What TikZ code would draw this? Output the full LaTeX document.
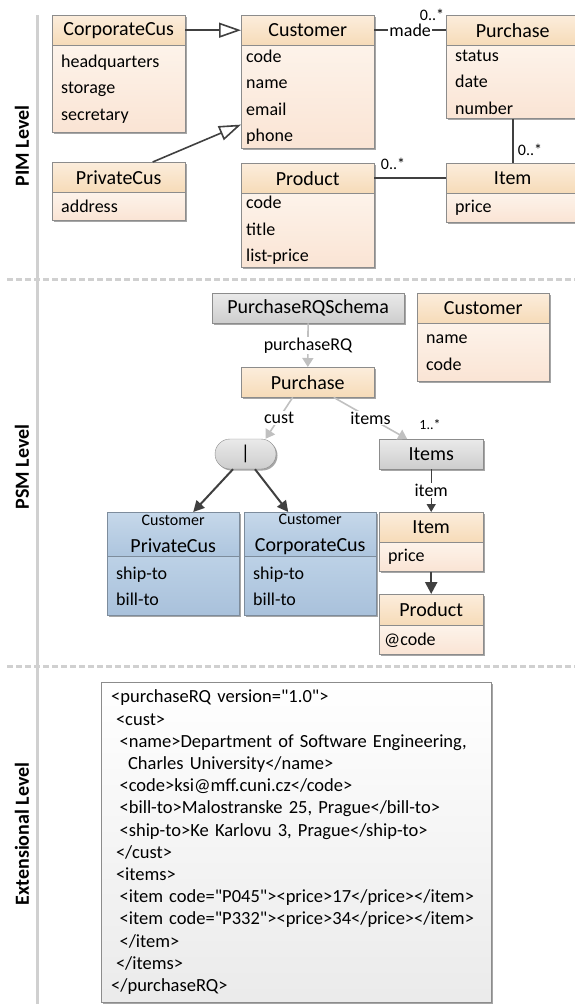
\documentclass[tikz,border=0pt]{standalone}
\usepackage{fontspec}
\setmainfont{Carlito}
\usetikzlibrary{positioning,shapes.misc,shadows,arrows.meta}

\definecolor{edge}{HTML}{8C8C8C}
\definecolor{link}{HTML}{404040}
\definecolor{soft}{HTML}{C0C0C0}
\definecolor{rule}{HTML}{D0D0D0}
\definecolor{ohT}{HTML}{FCEDDC}
\definecolor{ohB}{HTML}{F6DBB8}
\definecolor{obT}{HTML}{FDF3EA}
\definecolor{obB}{HTML}{FAE4D4}
\definecolor{ghT}{HTML}{EAEAEA}
\definecolor{ghB}{HTML}{CDCDCD}
\definecolor{bhT}{HTML}{C6D8EA}
\definecolor{bhB}{HTML}{ADC5DE}
\definecolor{bbT}{HTML}{BCD1E6}
\definecolor{bbB}{HTML}{A9C1DB}
\definecolor{bedge}{HTML}{7D8C9C}

\newcommand{\hfont}{\fontsize{20}{24}\selectfont}
\newcommand{\afont}{\fontsize{18}{26.5}\selectfont}
\newcommand{\lfont}{\fontsize{18}{20}\selectfont}
\newcommand{\mfont}{\fontsize{16}{18}\selectfont}
\newcommand{\q}{\textquotedbl}

\tikzset{
  boxshadow/.style={drop shadow={shadow xshift=1.5pt,shadow yshift=-1.5pt,opacity=.35,fill=black}},
  head/.style={draw=edge, boxshadow, top color=ohT, bottom color=ohB, minimum height=30pt, font=\hfont, inner sep=0pt, anchor=north west},
  attrs/.style={draw=edge, boxshadow, top color=obT, bottom color=obB, font=\afont, align=left, inner ysep=0pt, inner xsep=9pt},
  grey/.style={draw=edge, boxshadow, top color=ghT, bottom color=ghB, minimum height=30pt, font=\hfont, inner sep=0pt, anchor=north west},
  bhead/.style={draw=bedge, boxshadow, top color=bhT, bottom color=bhB, minimum height=44pt, font=\fontsize{20}{27}\selectfont, align=center, inner sep=0pt, anchor=north west},
  battrs/.style={draw=bedge, boxshadow, top color=bbT, bottom color=bbB, font=\afont, align=left, inner ysep=0pt, inner xsep=9pt},
  gen/.style={link, line width=1.6pt, -{Triangle[open,fill=white,length=22pt,width=15pt]}},
  assoc/.style={link, line width=1.8pt},
  lbl/.style={fill=white, text=black, inner sep=1pt, font=\lfont},
  mult/.style={font=\mfont, inner sep=0pt},
  softarr/.style={soft, line width=1.6pt, -{Triangle[length=9pt,width=11pt]}},
  thinarr/.style={link, line width=1.4pt, -{Triangle[length=8pt,width=9pt]}},
  choicearr/.style={link, line width=2pt, -{Triangle[length=11pt,width=11pt]}},
  levellbl/.style={rotate=90, font=\fontsize{20}{24}\selectfont\bfseries}
}

\begin{document}
\begin{tikzpicture}[x=1pt, y=-1pt]
    \useasboundingbox (0,0) rectangle (575,1004);
    \draw[rule, line width=3pt] (37,15) -- (37,1004);
    \draw[rule, line width=3pt, dash pattern=on 6pt off 3pt] (7,279) -- (575,279);
    \draw[rule, line width=3pt, dash pattern=on 6pt off 3pt] (7,666) -- (575,666);
    \node[levellbl] (pimL) at (22,146) {PIM Level};
    \node[levellbl] (psmL) at (22,467) {PSM Level};
    \node[levellbl] (extL) at (22,834) {Extensional Level};

    % PIM
    \node[head, minimum width=133pt] (CorpCus) at (52,15) {CorporateCus};
    \node[attrs, text width=115pt, minimum height=87pt, below=0pt of CorpCus] (CorpCusA) {headquarters\\storage\\secretary};
    \node[head, minimum width=133pt] (PrivCus) at (52,162) {PrivateCus};
    \node[attrs, text width=115pt, minimum height=28pt, below=0pt of PrivCus] (PrivCusA) {address};
    \node[head, minimum width=133pt] (Cust) at (241,15) {Customer};
    \node[attrs, inner xsep=5pt, text width=123pt, minimum height=103pt, below=0pt of Cust] (CustA) {code\\name\\email\\phone};
    \node[head, minimum width=133pt] (Prod) at (241,163) {Product};
    \node[attrs, inner xsep=5pt, text width=123pt, minimum height=74pt, below=0pt of Prod] (ProdA) {code\\title\\list-price};
    \node[head, minimum width=133pt] (Purch) at (446,15) {Purchase};
    \node[attrs, text width=115pt, minimum height=73pt, below=0pt of Purch] (PurchA) {status\\date\\number};
    \node[head, minimum width=133pt] (Item) at (446,163) {Item};
    \node[attrs, text width=115pt, minimum height=29pt, below=0pt of Item] (ItemA) {price};

    \draw[gen] (CorpCus) -- (Cust);
    \draw[gen] ([xshift=34pt]PrivCus.north) -- ([yshift=-27.5pt]CustA.west);
    \draw[assoc] (Cust) -- node[lbl] {made} (Purch);
    \draw[assoc] (PurchA) -- (Item);
    \draw[assoc] (Prod) -- (Item);
    \node[mult] (m1) at (432,15) {0..*};
    \node[mult] (m2) at (530,150) {0..*};
    \node[mult] (m3) at (393,164) {0..*};

    % PSM
    \node[grey, minimum width=192pt] (Schema) at (212,293) {PurchaseRQSchema};
    \node[head, minimum width=133pt] (PurPSM) at (241,367) {Purchase};
    \node[head, minimum width=132pt] (CustPSM) at (417,293) {Customer};
    \node[attrs, text width=114pt, minimum height=58pt, below=0pt of CustPSM] (CustPSMA) {name\\code};
    \node[draw=edge, boxshadow, rounded rectangle, top color=ghT, bottom color=ghB, minimum width=61pt, minimum height=30pt, inner sep=0pt, font=\hfont] (Choice) at (245.5,454) {|};
    \node[grey, minimum width=104pt] (Items) at (379,439) {Items};
    \node[bhead, minimum width=132pt] (PrivPSM) at (107,512) {{\fontsize{16}{27}\selectfont Customer}\\PrivateCus};
    \node[battrs, text width=114pt, minimum height=59pt, below=0pt of PrivPSM] (PrivPSMA) {ship-to\\bill-to};
    \node[bhead, minimum width=132pt] (CorpPSM) at (244,512) {{\fontsize{16}{27}\selectfont Customer}\\CorporateCus};
    \node[battrs, text width=114pt, minimum height=59pt, below=0pt of CorpPSM] (CorpPSMA) {ship-to\\bill-to};
    \node[head, minimum width=104pt] (ItemPSM) at (379,512) {Item};
    \node[attrs, text width=86pt, minimum height=29pt, below=0pt of ItemPSM] (ItemPSMA) {price};
    \node[head, minimum width=104pt, minimum height=31pt] (ProdPSM) at (379,594) {Product};
    \node[attrs, inner xsep=5pt, text width=94pt, minimum height=29pt, below=0pt of ProdPSM] (ProdPSMA) {@code};

    \draw[softarr] (Schema) -- node[lbl] {purchaseRQ} (PurPSM);
    \draw[softarr] ([xshift=-15pt]PurPSM.south) -- node[lbl] {cust} ([xshift=20pt]Choice.north);
    \draw[softarr] ([xshift=26pt]PurPSM.south) -- node[lbl] {items} ([xshift=-24pt]Items.north);
    \node[mult, font=\fontsize{14}{16}\selectfont] (m4) at (430,425) {1..*};
    \draw[thinarr] (Items) -- node[lbl] {item} (ItemPSM);
    \draw[choicearr] ([xshift=-12.5pt]Choice.south) -- ([xshift=20pt]PrivPSM.north);
    \draw[choicearr] ([xshift=9.5pt]Choice.south) -- ([xshift=-22pt]CorpPSM.north);
    \draw[link, line width=2.4pt, -{Triangle[length=12pt,width=12pt]}] (ItemPSMA) -- (ProdPSM);

    % extensional
    \node[draw=edge, boxshadow, top color=white, bottom color=black!8, anchor=north west, inner xsep=10pt, inner ysep=0pt, text width=370pt, minimum height=320pt, align=left, font=\fontsize{18.5}{22.2}\selectfont] (Doc) at (101,682) {%
      <purchaseRQ version=\q1.0\q>\\
      \hspace*{4.8pt}<cust>\\
      \hspace*{8.4pt}<name>Department of Software Engineering,\\
      \hspace*{16.9pt}Charles University</name>\\
      \hspace*{8.4pt}<code>ksi@mff.cuni.cz</code>\\
      \hspace*{8.4pt}<bill-to>Malostranske 25, Prague</bill-to>\\
      \hspace*{8.4pt}<ship-to>Ke Karlovu 3, Prague</ship-to>\\
      \hspace*{4.8pt}</cust>\\
      \hspace*{4.8pt}<items>\\
      \hspace*{8.4pt}<item code=\q P045\q><price>17</price></item>\\
      \hspace*{8.4pt}<item code=\q P332\q><price>34</price></item>\\
      \hspace*{8.4pt}</item>\\
      \hspace*{4.8pt}</items>\\
      </purchaseRQ>};
\end{tikzpicture}
\end{document}
